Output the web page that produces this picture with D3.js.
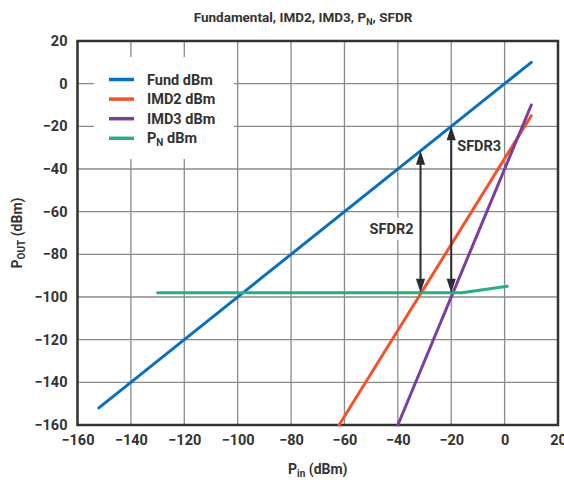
<!DOCTYPE html>
<html>
<head>
	<meta charset="utf-8">
	<script src="https://cdn.jsdelivr.net/npm/d3@7"></script>
	<style>
		body { margin: 0; background: white; }
		text { font-family: Roboto, "Noto Sans", sans-serif; font-weight: bold; fill: #333; }
	</style>
</head>
<body>
	<script>

		// data: [Pin, Pout] in dBm
		var fund = [[-152, -152], [10, 10]];
		var imd2 = [[-62, -160], [10, -15]];
		var imd3 = [[-40, -160], [10, -10]];
		var noise = [[-130, -98], [-16, -98], [1, -95]];

		var seriesNames  = ["Fund dBm", "IMD2 dBm", "IMD3 dBm", "P_N dBm"];
		var seriesColors = ["#0b6fbd", "#f4522d", "#7a3ea1", "#25b07e"];

		var xTicks = [-160, -140, -120, -100, -80, -60, -40, -20, 0, 20];
		var yTicks = [20, 0, -20, -40, -60, -80, -100, -120, -140, -160];

		// SFDR arrows: input level, bottom (noise), top (fundamental), label height
		var sfdrX     = [-31.5, -20];
		var sfdrLow   = [-98, -98];
		var sfdrHigh  = [-31.5, -20];
		var sfdrNames = ["SFDR2", "SFDR3"];
		var sfdrLabelY = [-68, -29];

		var width = 564, height = 483;
		var margin = { left: 77.5, right: 6, top: 41, bottom: 58 };

		var svg = d3.select("body").append("svg")
			.attr("width", width)
			.attr("height", height);

		var x = d3.scaleLinear().domain([-160, 20]).range([margin.left, width - margin.right]);
		var y = d3.scaleLinear().domain([-160, 20]).range([height - margin.bottom, margin.top]);

		var fmt = d => String(d).replace("-", "\u2212");

		// grid
		svg.append("g")
			.selectAll("line")
			.data(xTicks)
			.enter().append("line")
			.attr("x1", d => x(d)).attr("x2", d => x(d))
			.attr("y1", y(20)).attr("y2", y(-160))
			.attr("stroke", "#8a8a8a").attr("stroke-width", 1.3);

		svg.append("g")
			.selectAll("line")
			.data(yTicks)
			.enter().append("line")
			.attr("x1", x(-160)).attr("x2", x(20))
			.attr("y1", d => y(d)).attr("y2", d => y(d))
			.attr("stroke", "#8a8a8a").attr("stroke-width", 1.3);

		// frame
		svg.append("rect")
			.attr("x", x(-160)).attr("y", y(20))
			.attr("width", x(20) - x(-160)).attr("height", y(-160) - y(20))
			.attr("fill", "none").attr("stroke", "#333").attr("stroke-width", 2.5);

		// tick labels via d3 axes, with domain/ticks hidden
		var xAxis = svg.append("g")
			.attr("transform", "translate(0," + y(-160) + ")")
			.call(d3.axisBottom(x).tickValues(xTicks).tickSize(0).tickPadding(10).tickFormat(fmt));
		xAxis.select(".domain").remove();
		xAxis.selectAll("text").style("font-size", "14.5px").style("font-family", null).attr("fill", "#333");

		var yAxis = svg.append("g")
			.attr("transform", "translate(" + (x(-160) - 10) + ",0)")
			.call(d3.axisLeft(y).tickValues(yTicks).tickSize(0).tickPadding(0).tickFormat(fmt));
		yAxis.select(".domain").remove();
		yAxis.selectAll("text").style("font-size", "14.5px").style("font-family", null).attr("fill", "#333");

		// title
		var title = svg.append("text")
			.attr("x", 303).attr("y", 22)
			.attr("text-anchor", "middle")
			.style("font-size", "13.5px");
		title.append("tspan").text("Fundamental, IMD2, IMD3, P");
		title.append("tspan").attr("dy", 3).style("font-size", "9px").text("N");
		title.append("tspan").attr("dy", -3).text(", SFDR");

		// x title
		var xt = svg.append("text")
			.attr("x", (x(-160) + x(20)) / 2).attr("y", 474)
			.attr("text-anchor", "middle")
			.style("font-size", "14px");
		xt.append("tspan").text("P");
		xt.append("tspan").attr("dy", 3).style("font-size", "10px").text("in");
		xt.append("tspan").attr("dy", -3).text(" (dBm)");

		// y title
		var yt = svg.append("text")
			.attr("transform", "translate(22," + ((y(20) + y(-160)) / 2) + ") rotate(-90)")
			.attr("text-anchor", "middle")
			.style("font-size", "14px");
		yt.append("tspan").text("P");
		yt.append("tspan").attr("dy", 3).style("font-size", "10px").text("OUT");
		yt.append("tspan").attr("dy", -3).text(" (dBm)");

		// legend box (covers the grid)
		var legend = svg.append("g");
		legend.append("rect")
			.attr("x", 94).attr("y", 57).attr("width", 140).attr("height", 102)
			.attr("fill", "white");

		seriesNames.forEach(function(name, i) {
			var ly = 79.5 + i * 19.6;
			legend.append("line")
				.attr("x1", 109).attr("x2", 134)
				.attr("y1", ly).attr("y2", ly)
				.attr("stroke", seriesColors[i]).attr("stroke-width", 3.5);
			var t = legend.append("text")
				.attr("x", 147).attr("y", ly + 5)
				.style("font-size", "14.5px");
			if (name.indexOf("_") > -1) {
				t.append("tspan").text("P");
				t.append("tspan").attr("dy", 3).style("font-size", "10px").text("N");
				t.append("tspan").attr("dy", -3).text(" dBm");
			} else {
				t.text(name);
			}
		});

		// series lines
		var line = d3.line().x(d => x(d[0])).y(d => y(d[1]));
		[fund, imd2, imd3, noise].forEach(function(s, i) {
			svg.append("path")
				.datum(s)
				.attr("d", line)
				.attr("fill", "none")
				.attr("stroke", seriesColors[i])
				.attr("stroke-width", 3)
				.attr("stroke-linecap", "round")
				.attr("stroke-linejoin", "round");
		});

		// SFDR arrows
		var headLen = 14, headW = 4.6;
		sfdrX.forEach(function(v, i) {
			var ax = x(v), top = y(sfdrHigh[i]), bot = y(sfdrLow[i]);
			svg.append("line")
				.attr("x1", ax).attr("x2", ax)
				.attr("y1", top + headLen - 1).attr("y2", bot - headLen + 1)
				.attr("stroke", "#2b2b33").attr("stroke-width", 2);
			svg.append("path")
				.attr("d", "M" + ax + "," + top + "L" + (ax - headW) + "," + (top + headLen) +
					"L" + (ax + headW) + "," + (top + headLen) + "Z")
				.attr("fill", "#2b2b33");
			svg.append("path")
				.attr("d", "M" + ax + "," + bot + "L" + (ax - headW) + "," + (bot - headLen) +
					"L" + (ax + headW) + "," + (bot - headLen) + "Z")
				.attr("fill", "#2b2b33");
		});

		// SFDR labels: SFDR2 to the left of its arrow (white backing), SFDR3 to the right
		sfdrNames.forEach(function(name, i) {
			var left = i === 0;
			var tx = left ? x(sfdrX[i]) - 7 : x(sfdrX[i]) + 6;
			var ty = y(sfdrLabelY[i]);
			if (left) {
				svg.append("rect")
					.attr("x", tx - 49).attr("y", ty - 11)
					.attr("width", 51).attr("height", 22)
					.attr("fill", "white");
			}
			svg.append("text")
				.attr("x", tx).attr("y", ty + 5)
				.attr("text-anchor", left ? "end" : "start")
				.style("font-size", "14.5px")
				.text(name);
		});

	</script>
</body>
</html>
